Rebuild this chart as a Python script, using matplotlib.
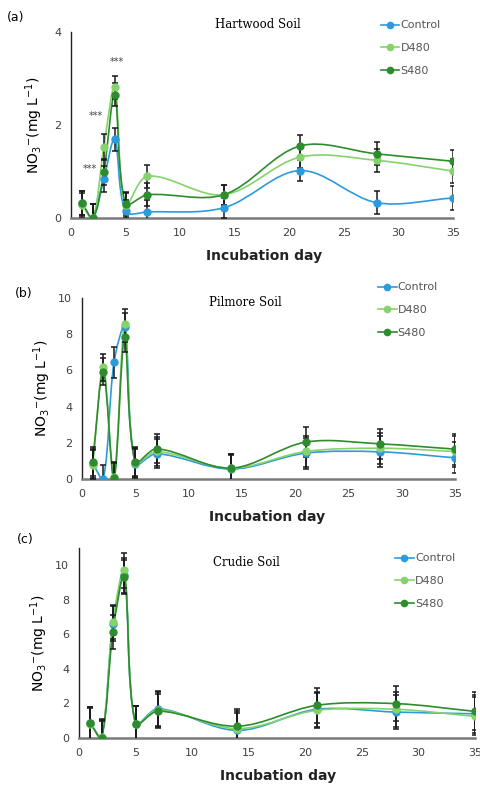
import matplotlib
matplotlib.use('Agg')
import matplotlib.pyplot as plt
from matplotlib.path import Path
from matplotlib.patches import PathPatch
from matplotlib.lines import Line2D
import numpy as np

# incubation days
days = [1, 2, 3, 4, 5, 7, 14, 21, 28, 35]

# (a) Hartwood soil
a_control = [0.32, 0.0, 0.83, 1.69, 0.14, 0.13, 0.22, 1.02, 0.33, 0.43]
a_d480 = [0.28, 0.0, 1.52, 2.81, 0.28, 0.90, 0.50, 1.31, 1.24, 1.01]
a_s480 = [0.32, 0.0, 0.98, 2.65, 0.31, 0.50, 0.50, 1.55, 1.38, 1.22]
a_err = [0.25, 0.30, 0.28, 0.25, 0.25, 0.25, 0.22, 0.23, 0.25, 0.25]

# (b) Pilmore soil
b_control = [0.85, 0.0, 6.44, 8.37, 0.85, 1.40, 0.55, 1.43, 1.50, 1.17]
b_d480 = [0.80, 6.17, 0.10, 8.59, 0.90, 1.52, 0.60, 1.52, 1.70, 1.52]
b_s480 = [0.95, 5.93, 0.05, 7.82, 0.95, 1.67, 0.60, 2.04, 1.94, 1.65]
b_err = [0.80, 0.75, 0.85, 0.80, 0.80, 0.80, 0.80, 0.85, 0.85, 0.85]

# (c) Crudie soil
c_control = [0.85, 0.02, 6.62, 9.42, 0.83, 1.70, 0.44, 1.66, 1.50, 1.40]
c_d480 = [0.80, 0.08, 6.72, 9.71, 0.83, 1.64, 0.54, 1.60, 1.66, 1.25]
c_s480 = [0.85, 0.0, 6.14, 9.32, 0.83, 1.56, 0.68, 1.89, 1.99, 1.54]
c_err = [0.95, 1.0, 1.0, 1.0, 1.0, 1.0, 1.0, 1.0, 1.0, 1.1]

labels = ['Control', 'D480', 'S480']
colors = ['#2C9BDB', '#86D36C', '#2E8B2E']

# asterisks in panel (a): (x, y)
stars_x = [1.7, 2.3, 4.2]
stars_y = [1.05, 2.2, 3.35]


def smooth_line(ax, x, y, color, sx, sy):
    # excel-like smoothed line, bezier control points weighted by chord length
    # (sx, sy = pixels per data unit, so chord lengths are measured on screen)
    x = np.asarray(x, float)
    y = np.asarray(y, float)
    n = len(x)
    d = np.hypot(np.diff(x) * sx, np.diff(y) * sy)
    verts = [(x[0], y[0])]
    codes = [Path.MOVETO]
    for i in range(n - 1):
        if i > 0:
            tx, ty = x[i + 1] - x[i - 1], y[i + 1] - y[i - 1]
            f = d[i] / (d[i - 1] + d[i]) / 3
            c1 = (x[i] + tx * f, y[i] + ty * f)
        else:
            c1 = (x[i] + (x[i + 1] - x[i]) / 3, y[i] + (y[i + 1] - y[i]) / 3)
        if i < n - 2:
            tx, ty = x[i + 2] - x[i], y[i + 2] - y[i]
            f = d[i] / (d[i] + d[i + 1]) / 3
            c2 = (x[i + 1] - tx * f, y[i + 1] - ty * f)
        else:
            c2 = (x[i + 1] - (x[i + 1] - x[i]) / 3, y[i + 1] - (y[i + 1] - y[i]) / 3)
        verts += [c1, c2, (x[i + 1], y[i + 1])]
        codes += [Path.CURVE4] * 3
    ax.add_patch(PathPatch(Path(verts, codes), facecolor='none',
                           edgecolor=color, lw=1.2, zorder=2))


def draw_panel(rect, series, err, ylim, yticks, title, title_xy, tag, tag_xy,
               leg_xy, ylab_x, xlab_xy):
    ax = fig.add_axes(rect)
    sx = rect[2] * 481 / 35
    sy = rect[3] * 785 / (ylim[1] - ylim[0])
    for s, c in zip(series, colors):
        smooth_line(ax, days, s, c, sx, sy)
        ax.errorbar(days, s, yerr=err, fmt='none', ecolor='#1a1a1a',
                    elinewidth=1.1, capsize=2.5, capthick=1.1, zorder=3)
    for s, c in zip(series, colors):
        ax.plot(days, s, 'o', color=c, ms=5, zorder=4)
    ax.set_xlim(0, 35)
    ax.set_ylim(*ylim)
    ax.set_xticks([0, 5, 10, 15, 20, 25, 30, 35])
    ax.set_yticks(yticks)
    ax.tick_params(length=0, labelsize=8, labelcolor='#404040', pad=7)
    for sp in ['top', 'right']:
        ax.spines[sp].set_visible(False)
    ax.spines['left'].set_color('#222222')
    ax.spines['left'].set_linewidth(1.0)
    ax.spines['bottom'].set_color('#7a7a7a')
    ax.spines['bottom'].set_linewidth(1.8)
    fig.text(title_xy[0], title_xy[1], title, family='DejaVu Serif',
             fontsize=8.5, ha='center', va='center')
    fig.text(tag_xy[0], tag_xy[1], tag, fontsize=9, ha='left', va='center')
    fig.text(ylab_x, rect[1] + rect[3] / 2, r'NO$_3$$^{-}$(mg L$^{-1}$)',
             fontsize=10, rotation=90, ha='center', va='center')
    fig.text(xlab_xy[0], xlab_xy[1], 'Incubation day', fontsize=10,
             fontweight='bold', ha='center', va='center', color='#222222')
    handles = [Line2D([], [], color=c, marker='o', ms=4.5, lw=1.2) for c in colors]
    fig.legend(handles, labels, loc='upper left', bbox_to_anchor=leg_xy,
               frameon=False, fontsize=8, labelcolor='#555555',
               handlelength=1.7, handletextpad=0.1, labelspacing=1.15,
               borderaxespad=0)
    return ax


fig = plt.figure(figsize=(4.81, 7.85), dpi=100)

ax_a = draw_panel([0.1476, 0.7223, 0.7942, 0.2369],
                  [a_control, a_d480, a_s480], a_err, (0, 4), [0, 2, 4],
                  'Hartwood Soil', (0.537, 1 - 25 / 785), '(a)',
                  (0.015, 1 - 17 / 785), (0.782, 1 - 16 / 785), 0.072,
                  (0.549, 1 - 256 / 785))
for sx, sy in zip(stars_x, stars_y):
    ax_a.text(sx, sy, '***', fontsize=7, color='#444444', ha='center',
              va='center')

draw_panel([0.1705, 0.3898, 0.7755, 0.2306],
           [b_control, b_d480, b_s480], b_err, (0, 10), [0, 2, 4, 6, 8, 10],
           'Pilmore Soil', (0.51, 1 - 303 / 785), '(b)',
           (0.03, 1 - 294 / 785), (0.776, 1 - 278 / 785), 0.088,
           (0.555, 1 - 517 / 785))

draw_panel([0.1642, 0.0599, 0.8233, 0.2420],
           [c_control, c_d480, c_s480], c_err, (0, 11), [0, 2, 4, 6, 8, 10],
           'Crudie Soil', (0.513, 1 - 563 / 785), '(c)',
           (0.035, 1 - 540 / 785), (0.812, 1 - 549 / 785), 0.082,
           (0.578, 1 - 776 / 785))

plt.savefig('out.png', dpi=100)
plt.close()
